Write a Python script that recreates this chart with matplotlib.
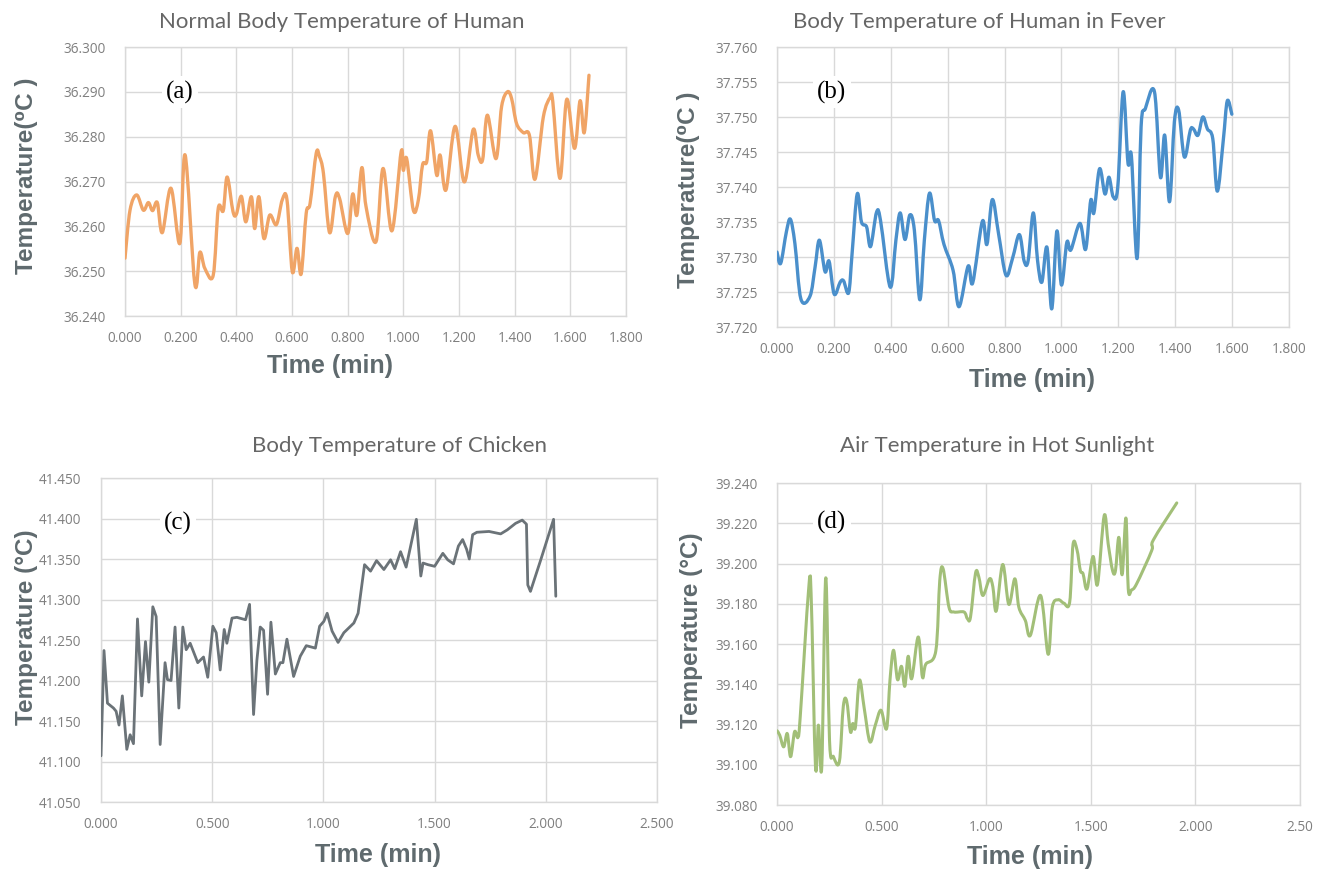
import numpy as np
import matplotlib.pyplot as plt
from matplotlib.path import Path
from matplotlib.patches import PathPatch

# (a) normal body temperature of human
a_time = [0.000, 0.018, 0.042, 0.066, 0.084, 0.099, 0.116, 0.134, 0.165, 0.197,
          0.216, 0.251, 0.269, 0.287, 0.317, 0.335, 0.353, 0.367, 0.388, 0.400,
          0.418, 0.434, 0.454, 0.466, 0.481, 0.499, 0.520, 0.544, 0.565, 0.582,
          0.601, 0.618, 0.633, 0.651, 0.665, 0.687, 0.699, 0.713, 0.735, 0.756,
          0.771, 0.800, 0.818, 0.833, 0.851, 0.866, 0.902, 0.927, 0.959, 0.992,
          1.000, 1.012, 1.036, 1.054, 1.069, 1.084, 1.098, 1.120, 1.132, 1.153,
          1.186, 1.219, 1.251, 1.269, 1.285, 1.302, 1.333, 1.353, 1.374, 1.389,
          1.407, 1.431, 1.453, 1.473, 1.503, 1.527, 1.537, 1.563, 1.587, 1.615,
          1.635, 1.650, 1.667]
a_temp = [36.2529, 36.2636, 36.2670, 36.2636, 36.2653, 36.2635, 36.2653, 36.2586, 36.2685, 36.2562,
          36.2759, 36.2471, 36.2542, 36.2506, 36.2491, 36.2640, 36.2635, 36.2710, 36.2633, 36.2627,
          36.2667, 36.2610, 36.2666, 36.2595, 36.2666, 36.2573, 36.2625, 36.2604, 36.2659, 36.2659,
          36.2499, 36.2551, 36.2494, 36.2629, 36.2651, 36.2763, 36.2755, 36.2718, 36.2586, 36.2667,
          36.2662, 36.2584, 36.2672, 36.2625, 36.2731, 36.2644, 36.2566, 36.2729, 36.2590, 36.2766,
          36.2725, 36.2751, 36.2636, 36.2659, 36.2737, 36.2744, 36.2813, 36.2714, 36.2759, 36.2681,
          36.2823, 36.2699, 36.2816, 36.2759, 36.2749, 36.2848, 36.2751, 36.2867, 36.2900, 36.2885,
          36.2829, 36.2809, 36.2803, 36.2705, 36.2844, 36.2887, 36.2878, 36.2707, 36.2883, 36.2774,
          36.2880, 36.2809, 36.2937]

# (b) body temperature of human in fever
b_time = [0.000, 0.013, 0.033, 0.047, 0.063, 0.084, 0.116, 0.134, 0.149, 0.169,
          0.183, 0.201, 0.222, 0.234, 0.252, 0.264, 0.282, 0.297, 0.315, 0.329,
          0.350, 0.364, 0.398, 0.418, 0.433, 0.450, 0.467, 0.483, 0.502, 0.518,
          0.536, 0.554, 0.568, 0.587, 0.619, 0.640, 0.672, 0.688, 0.722, 0.738,
          0.757, 0.779, 0.805, 0.828, 0.852, 0.869, 0.883, 0.901, 0.916, 0.931,
          0.949, 0.966, 0.984, 1.000, 1.019, 1.033, 1.065, 1.085, 1.103, 1.114,
          1.134, 1.153, 1.167, 1.182, 1.198, 1.217, 1.234, 1.246, 1.266, 1.280,
          1.295, 1.327, 1.348, 1.363, 1.380, 1.397, 1.412, 1.432, 1.453, 1.464,
          1.480, 1.497, 1.513, 1.532, 1.548, 1.569, 1.583, 1.599]
b_temp = [37.7307, 37.7291, 37.7336, 37.7354, 37.7319, 37.7240, 37.7244, 37.7286, 37.7324, 37.7279,
          37.7294, 37.7247, 37.7264, 37.7266, 37.7249, 37.7305, 37.7390, 37.7350, 37.7343, 37.7315,
          37.7364, 37.7352, 37.7257, 37.7324, 37.7363, 37.7325, 37.7360, 37.7338, 37.7239, 37.7324,
          37.7391, 37.7352, 37.7352, 37.7318, 37.7281, 37.7229, 37.7287, 37.7263, 37.7351, 37.7318,
          37.7382, 37.7333, 37.7274, 37.7298, 37.7332, 37.7294, 37.7295, 37.7363, 37.7295, 37.7264,
          37.7314, 37.7226, 37.7337, 37.7260, 37.7321, 37.7310, 37.7348, 37.7311, 37.7381, 37.7363,
          37.7426, 37.7390, 37.7414, 37.7386, 37.7400, 37.7536, 37.7434, 37.7444, 37.7298, 37.7486,
          37.7512, 37.7536, 37.7414, 37.7474, 37.7379, 37.7493, 37.7510, 37.7443, 37.7481, 37.7483,
          37.7474, 37.7500, 37.7483, 37.7469, 37.7394, 37.7467, 37.7523, 37.7504]

# (c) body temperature of chicken
c_time = [0.000, 0.0135, 0.029, 0.056, 0.068, 0.081, 0.096, 0.116, 0.131, 0.146,
          0.164, 0.183, 0.200, 0.215, 0.233, 0.248, 0.266, 0.288, 0.299, 0.315,
          0.333, 0.350, 0.368, 0.383, 0.401, 0.435, 0.461, 0.480, 0.503, 0.518,
          0.536, 0.554, 0.566, 0.589, 0.611, 0.650, 0.668, 0.686, 0.701, 0.716,
          0.731, 0.749, 0.764, 0.784, 0.806, 0.818, 0.836, 0.866, 0.896, 0.923,
          0.964, 0.983, 1.002, 1.017, 1.039, 1.066, 1.092, 1.137, 1.156, 1.185,
          1.212, 1.239, 1.272, 1.302, 1.321, 1.347, 1.372, 1.418, 1.438, 1.448,
          1.470, 1.500, 1.537, 1.559, 1.585, 1.607, 1.626, 1.644, 1.656, 1.671,
          1.690, 1.745, 1.797, 1.827, 1.864, 1.894, 1.913, 1.919, 1.931, 1.975,
          2.035, 2.045]
c_temp = [41.107, 41.237, 41.172, 41.166, 41.162, 41.145, 41.181, 41.115, 41.133, 41.122,
          41.276, 41.181, 41.248, 41.198, 41.291, 41.279, 41.121, 41.222, 41.201, 41.200,
          41.266, 41.166, 41.266, 41.238, 41.246, 41.222, 41.229, 41.204, 41.267, 41.259,
          41.213, 41.263, 41.246, 41.277, 41.278, 41.275, 41.294, 41.158, 41.225, 41.266,
          41.262, 41.183, 41.272, 41.208, 41.222, 41.222, 41.251, 41.205, 41.230, 41.243,
          41.240, 41.267, 41.273, 41.283, 41.261, 41.247, 41.259, 41.271, 41.283, 41.343,
          41.335, 41.348, 41.337, 41.349, 41.338, 41.359, 41.340, 41.399, 41.329, 41.345,
          41.343, 41.341, 41.357, 41.349, 41.344, 41.366, 41.374, 41.362, 41.350, 41.380,
          41.383, 41.384, 41.381, 41.386, 41.394, 41.398, 41.393, 41.318, 41.310, 41.347,
          41.399, 41.304]

# (d) air temperature in hot sunlight
d_time = [0.000, 0.013, 0.032, 0.049, 0.065, 0.084, 0.100, 0.111, 0.151, 0.163,
          0.184, 0.198, 0.214, 0.233, 0.251, 0.270, 0.298, 0.317, 0.333, 0.351,
          0.362, 0.375, 0.394, 0.417, 0.444, 0.470, 0.497, 0.524, 0.540, 0.557,
          0.576, 0.595, 0.611, 0.627, 0.644, 0.675, 0.695, 0.711, 0.759, 0.778,
          0.794, 0.822, 0.846, 0.894, 0.910, 0.925, 0.949, 0.965, 0.984, 1.016,
          1.032, 1.048, 1.079, 1.108, 1.137, 1.156, 1.187, 1.211, 1.260, 1.296,
          1.316, 1.344, 1.371, 1.399, 1.415, 1.434, 1.450, 1.463, 1.482, 1.511,
          1.532, 1.564, 1.583, 1.604, 1.618, 1.634, 1.650, 1.668, 1.679, 1.695,
          1.719, 1.791, 1.799, 1.911]
d_temp = [39.1169, 39.1147, 39.1089, 39.1155, 39.1040, 39.1164, 39.1136, 39.1238, 39.1869, 39.1850,
          39.0990, 39.1197, 39.0990, 39.1929, 39.1122, 39.1040, 39.1015, 39.1291, 39.1317, 39.1164,
          39.1205, 39.1188, 39.1420, 39.1280, 39.1114, 39.1197, 39.1271, 39.1180, 39.1420, 39.1569,
          39.1423, 39.1489, 39.1390, 39.1539, 39.1428, 39.1635, 39.1436, 39.1499, 39.1565, 39.1916,
          39.1974, 39.1783, 39.1759, 39.1759, 39.1726, 39.1734, 39.1952, 39.1932, 39.1841, 39.1924,
          39.1883, 39.1764, 39.1995, 39.1797, 39.1924, 39.1783, 39.1717, 39.1643, 39.1841, 39.1549,
          39.1783, 39.1820, 39.1803, 39.1808, 39.2094, 39.2068, 39.1965, 39.1949, 39.1874, 39.2035,
          39.1896, 39.2238, 39.2098, 39.1965, 39.1965, 39.2130, 39.1945, 39.2226, 39.1874, 39.1869,
          39.1899, 39.2064, 39.2117, 39.2301]

titles = ["Normal Body Temperature of Human", "Body Temperature of Human in Fever",
          "Body Temperature of Chicken", "Air Temperature in Hot Sunlight"]
tags = ["(a)", "(b)", "(c)", "(d)"]

W, H = 1319, 871
fig = plt.figure(figsize=(W / 100, H / 100), dpi=100)


def fx(x):
    return x / W


def fy(y):
    return 1 - y / H


def smooth_path(x, y):
    # Excel style smoothed line: Bezier segments through the data points
    p = np.column_stack([x, y])
    verts = [p[0]]
    codes = [Path.MOVETO]
    n = len(p)
    for k in range(n - 1):
        p0 = p[max(k - 1, 0)]
        p1 = p[k]
        p2 = p[k + 1]
        p3 = p[min(k + 2, n - 1)]
        verts += [p1 + (p2 - p0) / 6, p2 - (p3 - p1) / 6, p2]
        codes += [Path.CURVE4] * 3
    return Path(verts, codes)


grid_c = '#d9d9d9'
tick_c = '#7f7f7f'
lab_c = '#5f6a6e'
title_c = '#666666'
lab_font = ['Liberation Sans', 'DejaVu Sans']

panels = [
    dict(rect=(125, 47, 626, 316), x=a_time, y=a_temp, xt=np.arange(0, 1.81, 0.2),
         yt=np.arange(36.24, 36.3001, 0.01), color='#F0A466', lw=2.4, smooth=True,
         title=(159, 22, 'left'), xlab=(330, 366), ylab=(27, 176), yl="Temperature(\u2070C )",
         tag=(180, 92)),
    dict(rect=(777, 47, 1289, 327), x=b_time, y=b_temp, xt=np.arange(0, 1.81, 0.2),
         yt=np.arange(37.72, 37.7601, 0.005), color='#4A8FCB', lw=2.4, smooth=True,
         title=(793, 22, 'left'), xlab=(1032, 380), ylab=(688, 190), yl="Temperature(\u2070C )",
         tag=(832, 92)),
    dict(rect=(101, 478, 657, 802), x=c_time, y=c_temp, xt=np.arange(0, 2.51, 0.5),
         yt=np.arange(41.05, 41.4501, 0.05), color='#6B7378', lw=2.0, smooth=False,
         title=(399, 446, 'center'), xlab=(378, 855), ylab=(27, 627), yl="Temperature (\u00b0C)",
         tag=(178, 523)),
    dict(rect=(777, 483, 1300, 805), x=d_time, y=d_temp, xt=np.arange(0, 2.51, 0.5),
         yt=np.arange(39.08, 39.2401, 0.02), color='#A2BF78', lw=2.2, smooth=True,
         title=(997, 446, 'center'), xlab=(1030, 857), ylab=(691, 630), yl="Temperature (\u00b0C)",
         tag=(832, 522)),
]

for i, p in enumerate(panels):
    l, t, r, b = p['rect']
    ax = fig.add_axes([fx(l), fy(b), (r - l) / W, (b - t) / H])
    if p['smooth']:
        ax.add_patch(PathPatch(smooth_path(p['x'], p['y']), facecolor='none',
                               edgecolor=p['color'], lw=p['lw'], joinstyle='round',
                               capstyle='round', zorder=3))
    else:
        ax.plot(p['x'], p['y'], color=p['color'], lw=p['lw'], solid_joinstyle='round',
                solid_capstyle='round', zorder=3)
    ax.set_xlim(p['xt'][0], p['xt'][-1])
    ax.set_ylim(p['yt'][0], p['yt'][-1])
    ax.set_xticks(p['xt'])
    ax.set_yticks(p['yt'])
    xl = ['%.3f' % v for v in p['xt']]
    if i == 3:
        xl[-1] = '2.50'
    ax.set_xticklabels(xl)
    ax.set_yticklabels(['%.3f' % v for v in p['yt']])
    ax.grid(True, color=grid_c, lw=1, zorder=0)
    ax.set_axisbelow(True)
    for s in ax.spines.values():
        s.set_color(grid_c)
        s.set_linewidth(1)
    ax.tick_params(length=0, labelsize=9.8, labelcolor=tick_c)
    ax.tick_params(axis='y', pad=14)
    ax.tick_params(axis='x', pad=11)
    for lbl in ax.get_xticklabels() + ax.get_yticklabels():
        lbl.set_family(['Open Sans', 'DejaVu Sans'])

    tx, ty, tha = p['title']
    fig.text(fx(tx), fy(ty), titles[i], ha=tha, va='center',
             fontsize=16, color=title_c, family=['Lato', 'DejaVu Sans'])
    fig.text(fx(p['xlab'][0]), fy(p['xlab'][1]), "Time (min)", ha='center', va='center',
             fontsize=18, fontweight='bold', color=lab_c, family=lab_font)
    fig.text(fx(p['ylab'][0]), fy(p['ylab'][1]), p['yl'], ha='center', va='center',
             rotation=90, fontsize=17.5, fontweight='bold', color=lab_c, family=lab_font)
    fig.text(fx(p['tag'][0]), fy(p['tag'][1]), tags[i], ha='center', va='center',
             fontsize=18, color='black', family=['Liberation Serif', 'DejaVu Serif'],
             bbox=dict(facecolor='white', edgecolor='none', pad=3))

fig.savefig('out.png', dpi=100)
